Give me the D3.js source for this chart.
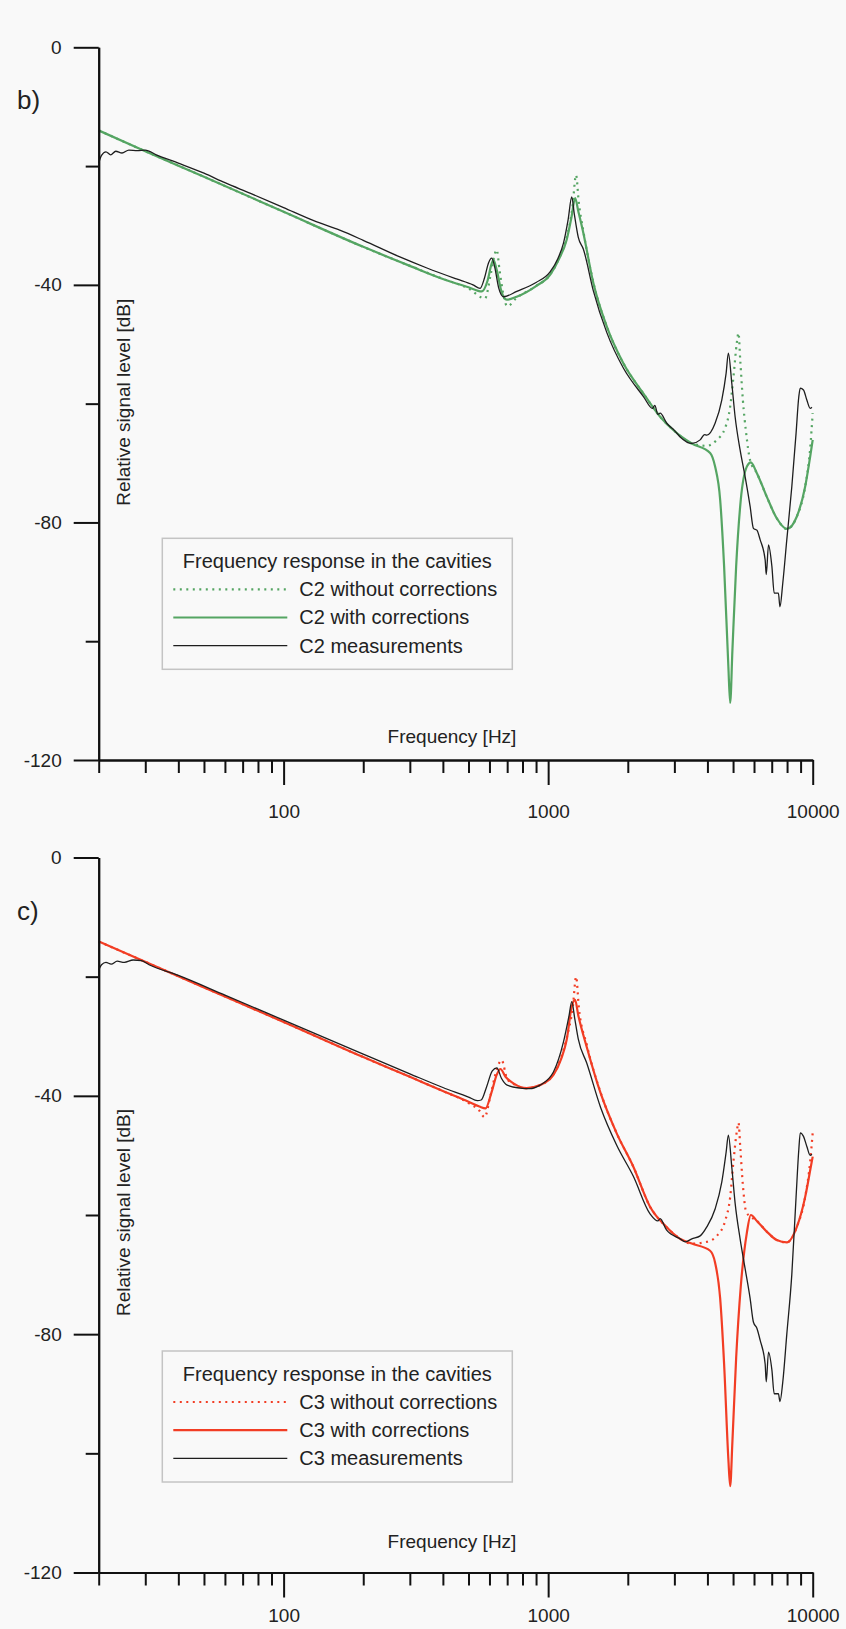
<!DOCTYPE html>
<html>
<head>
<meta charset="utf-8">
<script src="https://cdn.jsdelivr.net/npm/d3@7"></script>
<style>
body { margin: 0; background: #f9f9f9; }
svg { display: block; font-family: "Liberation Sans", Arial, sans-serif; }
.axis path, .axis line { stroke: #111; stroke-width: 2; }
.axis text { font-size: 19px; fill: #222; }
</style>
</head>
<body>
<div id="chart"></div>
<script>
// frequency [Hz], level [dB]
var c2Without = [[20,-14.0],[30,-17.5],[50,-21.8],[100,-27.7],[200,-33.6],[300,-36.8],[400,-39.0],[500,-40.6],[577,-42.3],[605,-38.5],[625,-35.2],[639,-34.1],[655,-37.5],[680,-42.0],[700,-43.6],[760,-42.2],[900,-40.2],[1017,-38.3],[1100,-35.5],[1175,-32.0],[1235,-27.0],[1275,-21.5],[1305,-26.0],[1359,-31.0],[1482,-39.6],[1665,-47.0],[1924,-53.2],[2292,-58.3],[2650,-62.2],[3000,-64.6],[3491,-66.7],[3978,-67.1],[4342,-66.1],[4666,-64.1],[4876,-60.5],[5017,-55.5],[5165,-49.8],[5242,-48.1],[5321,-52.6],[5446,-59.4],[5605,-65.0],[5797,-69.5],[6152,-71.7],[6709,-75.7],[7313,-79.3],[7982,-81.1],[8711,-79.0],[9363,-74.0],[9784,-67.5],[10000,-61.6]];

var c2With = [[20,-14.0],[30,-17.5],[50,-21.8],[100,-27.7],[200,-33.6],[300,-36.8],[400,-39.0],[500,-40.4],[561,-41.1],[590,-39.3],[610,-36.6],[621,-35.8],[640,-37.6],[665,-41.0],[697,-42.5],[760,-42.0],[900,-40.2],[1017,-38.3],[1100,-35.6],[1175,-32.4],[1225,-28.6],[1265,-25.4],[1300,-27.6],[1359,-31.3],[1482,-39.7],[1665,-47.0],[1924,-53.2],[2292,-58.3],[2650,-62.2],[3000,-64.6],[3491,-66.7],[4095,-68.3],[4276,-70.6],[4469,-76.2],[4625,-87.4],[4800,-104.3],[4876,-110.4],[4972,-101.5],[5136,-87.4],[5347,-76.2],[5637,-70.6],[5836,-69.9],[6152,-71.7],[6709,-75.7],[7313,-79.3],[7982,-81.1],[8711,-79.0],[9363,-74.0],[9784,-68.9],[10000,-66.1]];

var c2Meas = [[20,-19.5],[20.5,-18.2],[21.3,-17.6],[22.2,-18.1],[23.2,-17.5],[24.5,-17.8],[26,-17.3],[28,-17.4],[30,-17.3],[33,-18.1],[40,-19.5],[50,-21.2],[60,-22.8],[75,-24.6],[100,-27.0],[130,-29.2],[163,-30.8],[200,-32.5],[275,-35.3],[350,-37.2],[450,-39.0],[520,-40.0],[553,-40.6],[575,-38.8],[595,-36.3],[612,-35.5],[628,-37.0],[650,-40.5],[678,-42.0],[761,-41.1],[900,-39.6],[1017,-37.8],[1090,-35.5],[1142,-33.0],[1190,-29.0],[1228,-25.2],[1255,-28.0],[1300,-32.0],[1359,-34.0],[1482,-41.0],[1665,-48.0],[1924,-54.0],[2292,-58.8],[2480,-60.8],[2530,-60.3],[2600,-61.8],[2650,-61.6],[2809,-63.3],[3000,-64.5],[3155,-65.6],[3491,-66.7],[3755,-66.1],[3900,-65.2],[3978,-65.3],[4276,-63.3],[4532,-59.4],[4706,-54.9],[4800,-51.5],[4946,-56.6],[5090,-62.2],[5316,-67.8],[5553,-72.3],[5800,-77.3],[5971,-81.0],[6152,-81.3],[6328,-82.9],[6611,-86.3],[6675,-88.8],[6806,-83.8],[7010,-87.4],[7153,-91.9],[7418,-91.9],[7520,-94.2],[7708,-90.2],[7982,-82.9],[8337,-74.0],[8652,-65.0],[8862,-58.8],[8976,-57.4],[9230,-57.7],[9503,-59.4],[9784,-60.8],[9930,-60.6]];

var c3Without = [[20,-14.1],[50,-21.8],[100,-27.6],[200,-33.5],[300,-36.8],[400,-39.2],[500,-41.2],[550,-42.5],[575,-43.6],[605,-40.0],[640,-35.5],[667,-34.0],[700,-37.2],[739,-38.0],[830,-38.7],[932,-38.2],[1047,-36.4],[1120,-33.5],[1175,-30.3],[1240,-25.0],[1276,-20.0],[1305,-25.0],[1399,-31.4],[1580,-39.5],[1816,-46.3],[2099,-51.9],[2427,-58.6],[2800,-62.0],[3155,-64.0],[3491,-64.8],[3978,-64.5],[4342,-63.5],[4666,-61.0],[4876,-57.0],[5017,-51.0],[5165,-46.0],[5242,-44.5],[5321,-48.5],[5446,-55.0],[5605,-59.5],[5797,-60.2],[6152,-61.0],[6709,-62.8],[7313,-64.2],[7982,-64.6],[8711,-62.0],[9363,-57.0],[9784,-51.0],[10000,-46.2]];

var c3With = [[20,-14.1],[50,-21.8],[100,-27.6],[200,-33.5],[300,-36.8],[400,-39.2],[500,-41.0],[550,-41.8],[580,-42.1],[610,-39.5],[640,-36.4],[660,-35.5],[690,-36.8],[739,-37.9],[830,-38.7],[932,-38.2],[1047,-36.5],[1120,-33.8],[1175,-30.6],[1228,-25.0],[1264,-23.9],[1300,-26.5],[1399,-31.8],[1580,-39.6],[1816,-46.3],[2099,-51.9],[2427,-58.6],[2800,-62.0],[3155,-64.0],[3491,-64.8],[4095,-66.0],[4276,-68.0],[4469,-74.0],[4625,-85.0],[4800,-101.0],[4876,-105.5],[4972,-98.0],[5136,-84.0],[5347,-72.0],[5637,-63.0],[5836,-60.0],[6152,-61.0],[6709,-62.8],[7313,-64.2],[7982,-64.6],[8711,-62.0],[9363,-57.0],[9784,-52.5],[10000,-50.2]];

var c3Meas = [[20,-18.9],[20.5,-18.0],[21.3,-17.6],[22.3,-17.9],[23.5,-17.4],[25,-17.6],[27,-17.2],[29,-17.3],[31,-18.0],[40,-19.8],[60,-23.1],[100,-27.3],[200,-33.0],[300,-36.3],[400,-38.6],[500,-40.2],[540,-40.8],[558,-40.7],[585,-38.5],[615,-35.8],[640,-35.3],[665,-37.0],[700,-38.2],[783,-38.7],[850,-38.8],[932,-38.2],[1047,-36.0],[1142,-31.0],[1200,-26.5],[1228,-24.2],[1260,-27.0],[1300,-30.5],[1399,-34.5],[1580,-42.0],[1816,-48.3],[2099,-53.5],[2427,-59.8],[2600,-61.0],[2650,-60.6],[2800,-62.5],[3155,-64.0],[3300,-64.5],[3491,-64.0],[3755,-63.5],[3978,-62.0],[4276,-59.0],[4532,-54.5],[4706,-49.5],[4800,-46.6],[4946,-52.0],[5090,-58.0],[5316,-64.0],[5553,-69.0],[5800,-74.0],[5971,-78.0],[6152,-79.0],[6328,-81.0],[6611,-85.0],[6675,-88.0],[6806,-83.0],[7010,-86.0],[7153,-90.0],[7418,-90.0],[7520,-91.3],[7708,-88.0],[7982,-80.0],[8337,-70.0],[8652,-57.0],[8862,-49.0],[8976,-46.2],[9230,-46.8],[9503,-48.5],[9784,-50.0],[9930,-49.8]];

var xMajor = [100, 1000, 10000];
var xMinor = [20,30,40,50,60,70,80,90,200,300,400,500,600,700,800,900,2000,3000,4000,5000,6000,7000,8000,9000];
var yMajor = [0, -40, -80, -120];
var yMinor = [-20, -60, -100];

var legendTitle = "Frequency response in the cavities";

var panels = [
  {label: "b)", top: 47.3, bottom: 760, color: "#55a563", tickPad: 20, xLabelGap: 17, legendY: 491,
   names: ["C2 without corrections", "C2 with corrections", "C2 measurements"],
   without: c2Without, withc: c2With, meas: c2Meas},
  {label: "c)", top: 857.5, bottom: 1572.5, color: "#f23d24", tickPad: 11, xLabelGap: 25, legendY: 493.5,
   names: ["C3 without corrections", "C3 with corrections", "C3 measurements"],
   without: c3Without, withc: c3With, meas: c3Meas}
];

var width = 846, height = 1629;

var svg = d3.select("#chart").append("svg")
    .attr("width", width)
    .attr("height", height);

svg.append("rect").attr("width", width).attr("height", height).attr("fill", "#f9f9f9");

var x = d3.scaleLog()
    .domain([20, 10000])
    .range([98.7, 812.7]);

function drawPanel(p) {
  var y = d3.scaleLinear()
      .domain([0, -120])
      .range([p.top, p.bottom]);

  var g = svg.append("g");

  var line = d3.line()
      .x(function(d) { return x(d[0]); })
      .y(function(d) { return y(d[1]); })
      .curve(d3.curveMonotoneX);

  // curves
  g.append("path")
      .datum(p.withc)
      .attr("d", line)
      .attr("fill", "none")
      .attr("stroke", p.color)
      .attr("stroke-width", 2.2);

  g.append("path")
      .datum(p.without)
      .attr("d", line)
      .attr("fill", "none")
      .attr("stroke", p.color)
      .attr("stroke-width", 2.2)
      .attr("stroke-dasharray", "2,4.5");

  g.append("path")
      .datum(p.meas)
      .attr("d", line)
      .attr("fill", "none")
      .attr("stroke", "#1e1e1e")
      .attr("stroke-width", 1.3);

  // x axis
  g.append("g")
      .attr("class", "axis")
      .attr("transform", "translate(0," + p.bottom + ")")
      .call(d3.axisBottom(x).tickValues(xMinor).tickSize(13).tickSizeOuter(0).tickFormat(""));

  g.append("g")
      .attr("class", "axis")
      .attr("transform", "translate(0," + p.bottom + ")")
      .call(d3.axisBottom(x).tickValues(xMajor).tickSize(25).tickSizeOuter(0).tickPadding(p.tickPad)
        .tickFormat(function(d) { return String(d); }));

  // y axis
  g.append("g")
      .attr("class", "axis")
      .attr("transform", "translate(98.7,0)")
      .call(d3.axisLeft(y).tickValues(yMinor).tickSize(13).tickSizeOuter(0).tickFormat(""));

  g.append("g")
      .attr("class", "axis")
      .attr("transform", "translate(98.7,0)")
      .call(d3.axisLeft(y).tickValues(yMajor).tickSize(25).tickSizeOuter(0).tickPadding(12)
        .tickFormat(function(d) { return String(d); }));

  // labels
  g.append("text")
      .attr("x", 17)
      .attr("y", p.top + 62)
      .style("font-size", "26px")
      .attr("fill", "#222")
      .text(p.label);

  g.append("text")
      .attr("transform", "translate(130," + (p.top + 355) + ") rotate(-90)")
      .style("text-anchor", "middle")
      .style("font-size", "19px")
      .attr("fill", "#222")
      .text("Relative signal level [dB]");

  g.append("text")
      .attr("x", 452)
      .attr("y", p.bottom - p.xLabelGap)
      .style("text-anchor", "middle")
      .style("font-size", "19px")
      .attr("fill", "#222")
      .text("Frequency [Hz]");

  // legend
  var legend = g.append("g")
      .attr("class", "legend")
      .attr("transform", "translate(162.3," + (p.top + p.legendY) + ")");

  legend.append("rect")
      .attr("width", 350)
      .attr("height", 131)
      .attr("fill", "#f9f9f9")
      .attr("stroke", "#c4c4c4")
      .attr("stroke-width", 1.5);

  legend.append("text")
      .attr("x", 175)
      .attr("y", 30)
      .style("text-anchor", "middle")
      .style("font-size", "20px")
      .attr("fill", "#222")
      .text(legendTitle);

  var styles = [
    {stroke: p.color, w: 2.2, dash: "2,4.5"},
    {stroke: p.color, w: 2.2, dash: null},
    {stroke: "#1e1e1e", w: 1.3, dash: null}
  ];

  p.names.forEach(function(name, i) {
    var by = 58 + i * 28.2;
    legend.append("line")
        .attr("x1", 11)
        .attr("x2", 125)
        .attr("y1", by - 7)
        .attr("y2", by - 7)
        .attr("stroke", styles[i].stroke)
        .attr("stroke-width", styles[i].w)
        .attr("stroke-dasharray", styles[i].dash);
    legend.append("text")
        .attr("x", 137)
        .attr("y", by)
        .style("font-size", "20px")
        .attr("fill", "#222")
        .text(name);
  });
}

panels.forEach(drawPanel);
</script>
</body>
</html>
